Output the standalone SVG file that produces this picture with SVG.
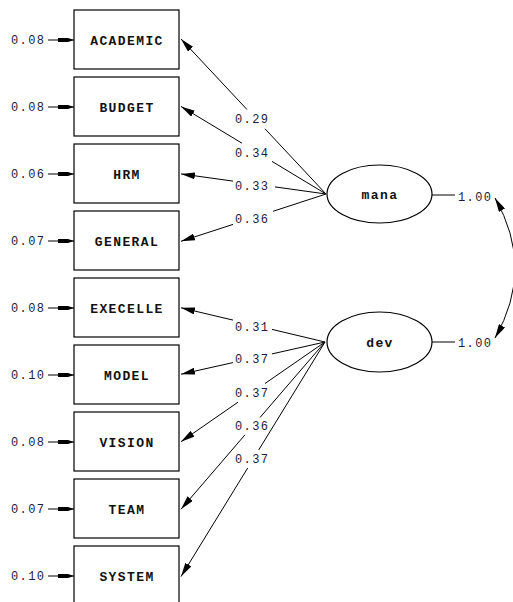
<svg xmlns="http://www.w3.org/2000/svg" width="513" height="602" viewBox="0 0 513 602">
<style>
.box{fill:#fff;stroke:#000;stroke-width:1.2}
.lv{fill:#fff;stroke:#000;stroke-width:1.2}
.nm{font-family:"Liberation Mono",monospace;font-weight:bold;font-size:13px;letter-spacing:1.4px;fill:#111;text-anchor:middle}
.num{font-family:"Liberation Mono",monospace;font-size:12px;letter-spacing:1.4px;fill:#1c1c3c}
.ln{stroke:#000;stroke-width:1;fill:none}
</style>
<defs>
<marker id="ah" markerUnits="userSpaceOnUse" markerWidth="14" markerHeight="7" refX="14" refY="3.5" orient="auto">
<path d="M0,0 L14,3.5 L0,7 Z" fill="#000"/>
</marker>
<marker id="ahr" markerUnits="userSpaceOnUse" markerWidth="14" markerHeight="7" refX="0" refY="3.5" orient="auto">
<path d="M14,0 L0,3.5 L14,7 Z" fill="#000"/>
</marker>
<marker id="ahs" markerUnits="userSpaceOnUse" markerWidth="16" markerHeight="6" refX="16" refY="3" orient="auto">
<path d="M0,1 L10,1 L16,3 L10,5 L0,5 Z" fill="#000"/>
</marker>
</defs>
<g id="ACADEMIC"><rect class="box" x="74" y="10" width="105" height="59"/><text class="nm" x="127" y="44.5">ACADEMIC</text></g>
<g id="BUDGET"><rect class="box" x="74" y="77" width="105" height="59"/><text class="nm" x="127" y="111.5">BUDGET</text></g>
<g id="HRM"><rect class="box" x="74" y="144" width="105" height="59"/><text class="nm" x="127" y="178.5">HRM</text></g>
<g id="GENERAL"><rect class="box" x="74" y="211" width="105" height="59"/><text class="nm" x="127" y="245.5">GENERAL</text></g>
<g id="EXECELLE"><rect class="box" x="74" y="278" width="105" height="59"/><text class="nm" x="127" y="312.5">EXECELLE</text></g>
<g id="MODEL"><rect class="box" x="74" y="345" width="105" height="59"/><text class="nm" x="127" y="379.5">MODEL</text></g>
<g id="VISION"><rect class="box" x="74" y="412" width="105" height="59"/><text class="nm" x="127" y="446.5">VISION</text></g>
<g id="TEAM"><rect class="box" x="74" y="479" width="105" height="59"/><text class="nm" x="127" y="513.5">TEAM</text></g>
<g id="SYSTEM"><rect class="box" x="74" y="546" width="105" height="59"/><text class="nm" x="127" y="580.5">SYSTEM</text></g>
<g id="mana"><ellipse class="lv" cx="379.5" cy="194" rx="52.5" ry="29"/><text class="nm" x="380" y="198.5">mana</text></g>
<g id="dev"><ellipse class="lv" cx="379.5" cy="342" rx="52.5" ry="30"/><text class="nm" x="380" y="346.5">dev</text></g>
<g id="connectors">
<g id="errors">
<line class="ln" x1="48" y1="40" x2="74" y2="40" marker-end="url(#ahs)"/>
<line class="ln" x1="48" y1="107" x2="74" y2="107" marker-end="url(#ahs)"/>
<line class="ln" x1="48" y1="174" x2="74" y2="174" marker-end="url(#ahs)"/>
<line class="ln" x1="48" y1="241" x2="74" y2="241" marker-end="url(#ahs)"/>
<line class="ln" x1="48" y1="308" x2="74" y2="308" marker-end="url(#ahs)"/>
<line class="ln" x1="48" y1="375" x2="74" y2="375" marker-end="url(#ahs)"/>
<line class="ln" x1="48" y1="442" x2="74" y2="442" marker-end="url(#ahs)"/>
<line class="ln" x1="48" y1="509" x2="74" y2="509" marker-end="url(#ahs)"/>
<line class="ln" x1="48" y1="576" x2="74" y2="576" marker-end="url(#ahs)"/>
</g>
<g id="mana-loadings">
<line class="ln" x1="326" y1="194" x2="265" y2="128.8"/><line class="ln" x1="247" y1="109.5" x2="181" y2="39" marker-end="url(#ah)"/>
<line class="ln" x1="326" y1="194" x2="272" y2="161.4"/><line class="ln" x1="242" y1="143.2" x2="181" y2="106.4" marker-end="url(#ah)"/>
<line class="ln" x1="326" y1="194" x2="275" y2="186.9"/><line class="ln" x1="233" y1="181.1" x2="181" y2="173.9" marker-end="url(#ah)"/>
<line class="ln" x1="326" y1="194" x2="273" y2="211.3"/><line class="ln" x1="233" y1="224.4" x2="181" y2="241.3" marker-end="url(#ah)"/>
</g>
<g id="dev-loadings">
<line class="ln" x1="325" y1="342" x2="272" y2="329.4"/><line class="ln" x1="233" y1="320.1" x2="181" y2="307.8" marker-end="url(#ah)"/>
<line class="ln" x1="325" y1="342" x2="272" y2="353.9"/><line class="ln" x1="233" y1="362.6" x2="181" y2="374.2" marker-end="url(#ah)"/>
<line class="ln" x1="325" y1="342" x2="265" y2="383.5"/><line class="ln" x1="238" y1="402.2" x2="181" y2="441.7" marker-end="url(#ah)"/>
<line class="ln" x1="325" y1="342" x2="260" y2="417.5"/><line class="ln" x1="245" y1="434.8" x2="181" y2="509.2" marker-end="url(#ah)"/>
<line class="ln" x1="325" y1="342" x2="258.7" y2="450"/><line class="ln" x1="247.7" y1="468" x2="181" y2="576.6" marker-end="url(#ah)"/>
</g>
<line class="ln" x1="432" y1="195" x2="455" y2="195"/>
<line class="ln" x1="432" y1="342" x2="455" y2="342"/>
<path id="cov" class="ln" d="M495,198 Q535,268 495,338" marker-start="url(#ahr)" marker-end="url(#ah)"/>
</g>
<g id="labels">
<text class="num" x="11" y="44">0.08</text>
<text class="num" x="11" y="111">0.08</text>
<text class="num" x="11" y="178">0.06</text>
<text class="num" x="11" y="245">0.07</text>
<text class="num" x="11" y="312">0.08</text>
<text class="num" x="11" y="379">0.10</text>
<text class="num" x="11" y="446">0.08</text>
<text class="num" x="11" y="513">0.07</text>
<text class="num" x="11" y="580">0.10</text>
<text class="num" x="235" y="123">0.29</text>
<text class="num" x="235" y="157">0.34</text>
<text class="num" x="235" y="190">0.33</text>
<text class="num" x="235" y="223">0.36</text>
<text class="num" x="235" y="331">0.31</text>
<text class="num" x="235" y="363">0.37</text>
<text class="num" x="235" y="397">0.37</text>
<text class="num" x="235" y="430">0.36</text>
<text class="num" x="235" y="463">0.37</text>
<text class="num" x="458" y="201">1.00</text>
<text class="num" x="458" y="347">1.00</text>
</g>
</svg>
